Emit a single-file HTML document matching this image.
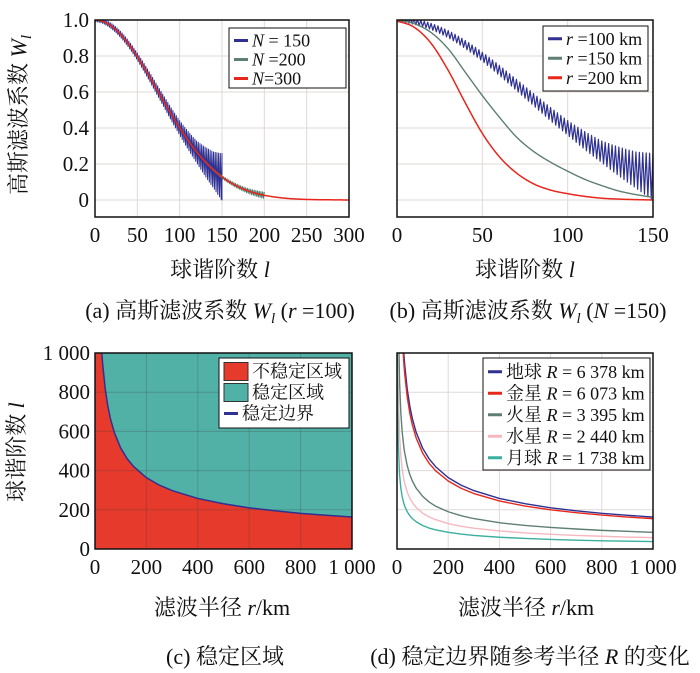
<!DOCTYPE html>
<html><head><meta charset="utf-8"><style>
html,body{margin:0;padding:0;background:#fff;}
svg{display:block;}
text{font-family:"Liberation Serif","Noto Serif CJK SC",serif;}
.tk{font-size:21px;fill:#111;}
.lab{font-size:22px;fill:#111;}
.lg{font-size:18px;fill:#111;}
.grid{stroke:#e2d8d8;stroke-width:1;}
</style></head><body>
<svg id="fig" width="700" height="673" viewBox="0 0 700 673" xmlns="http://www.w3.org/2000/svg">
<defs>
<clipPath id="ca"><rect x="95" y="20" width="254" height="197"/></clipPath>
<clipPath id="cb"><rect x="397" y="20" width="256" height="197"/></clipPath>
<clipPath id="cc"><rect x="95" y="353" width="257" height="196"/></clipPath>
<clipPath id="cd"><rect x="397" y="353" width="256" height="196"/></clipPath>
</defs>
<g id="pa"></g>
<g id="pb"></g>
<g id="pc"></g>
<g id="pd"></g>

<text class="lab" x="26" y="115" text-anchor="middle" transform="rotate(-90 26 115)">高斯滤波系数 <tspan font-style="italic">W</tspan><tspan font-style="italic" font-size="15" dy="5">l</tspan></text>
<text class="lab" x="220" y="277" text-anchor="middle">球谐阶数 <tspan font-style="italic">l</tspan></text>
<text class="lab" x="525" y="277" text-anchor="middle">球谐阶数 <tspan font-style="italic">l</tspan></text>
<text class="lab" x="220" y="318" text-anchor="middle">(a) 高斯滤波系数 <tspan font-style="italic">W</tspan><tspan font-style="italic" font-size="15" dy="5">l</tspan><tspan dy="-5"> (</tspan><tspan font-style="italic">r</tspan> =100)</text>
<text class="lab" x="528" y="318" text-anchor="middle">(b) 高斯滤波系数 <tspan font-style="italic">W</tspan><tspan font-style="italic" font-size="15" dy="5">l</tspan><tspan dy="-5"> (</tspan><tspan font-style="italic">N</tspan> =150)</text>
<text class="lab" x="24" y="452" text-anchor="middle" transform="rotate(-90 24 452)">球谐阶数 <tspan font-style="italic">l</tspan></text>
<text class="lab" x="222" y="615" text-anchor="middle">滤波半径 <tspan font-style="italic">r</tspan>/km</text>
<text class="lab" x="526" y="615" text-anchor="middle">滤波半径 <tspan font-style="italic">r</tspan>/km</text>
<text class="lab" x="225" y="664" text-anchor="middle">(c) 稳定区域</text>
<text class="lab" x="530" y="664" text-anchor="middle">(d) 稳定边界随参考半径 <tspan font-style="italic">R</tspan> 的变化</text>
</svg>
<script>
// ---- Panel a data ----
const aL = [0,10,20,30,40,50,60,70,80,90,100,110,120,130,140,150,160,170,180,190,200,220,240,260,280,300];
const aW300 = [1,.991,.964,.921,.864,.796,.720,.639,.558,.477,.401,.331,.268,.214,.167,.128,.097,.072,.052,.037,.026,.012,.005,.002,.001,0];
const aRippleL = [0,20,50,80,100,120,130,140,150];
const aRipple150 = [0.008,0.015,0.02,0.03,0.04,0.06,0.08,0.10,0.13];
const aRipple200L = [120,150,180,200];
const aRipple200 = [0.003,0.008,0.013,0.018];
const aXTicks = [0,50,100,150,200,250,300];
const aYTicks = [0,0.2,0.4,0.6,0.8,1.0];
const aYTickLabels = ["0","0.2","0.4","0.6","0.8","1.0"];
// ---- Panel b data ----
const bL = [0,10,20,30,40,50,60,70,80,90,100,110,120,130,140,150];
const bW100 = [1,.991,.964,.921,.864,.796,.720,.639,.558,.477,.401,.331,.268,.214,.167,.128];
const bW150 = [1,.98,.93,.84,.71,.58,.46,.35,.27,.21,.16,.115,.08,.05,.03,.015];
const bW200 = [.995,.96,.87,.72,.54,.37,.24,.15,.09,.055,.035,.02,.01,.005,.002,0];
const bRippleL = [0,10,50,100,120,130,140,150];
const bRipple100 = [0.008,0.015,0.025,0.04,0.06,0.08,0.10,0.13];
const bXTicks = [0,50,100,150];
// ---- Panels c, d data ----
const rKm = [1,2,3,5,10,15,20,27,30,40,50,60,75,100,125,150,200,250,300,400,500,600,700,800,900,1000];
const lEarth = [5150,3640,2980,2305,1630,1331,1153,992,941,815,729,665,595,515,461,421,364,326,298,258,231,210,195,182,172,163];
const lVenus = [4900,3470,2830,2192,1550,1266,1096,943,895,775,693,633,566,490,438,400,347,310,283,245,219,200,185,173,163,155];
const lMars = [2690,1900,1550,1202,850,694,601,517,491,425,380,347,310,269,240,219,190,170,155,134,120,110,102,95,90,85];
const lMercury = [1834,1297,1059,820,580,474,410,353,335,290,259,237,212,183,164,150,130,116,106,92,82,75,69,65,61,58];
const lMoon = [1202,850,694,537,380,310,269,231,219,190,170,155,139,120,107,98,85,76,69,60,54,49,45,42,40,38];
const cdXTicks = [0,200,400,600,800,1000];
const cdXTickLabels = ["0","200","400","600","800","1 000"];
const cdYTicks = [0,200,400,600,800,1000];
const cdYTickLabels = ["0","200","400","600","800","1 000"];

const NS="http://www.w3.org/2000/svg";
function mk(parent,tag,attrs){const e=document.createElementNS(NS,tag);for(const k in attrs)e.setAttribute(k,attrs[k]);parent.appendChild(e);return e;}
function lin(d0,d1,p0,p1){return v=>p0+(v-d0)/(d1-d0)*(p1-p0);}
function interp(xs,ys,x){if(x<=xs[0])return ys[0];for(let i=1;i<xs.length;i++){if(x<=xs[i]){const t=(x-xs[i-1])/(xs[i]-xs[i-1]);return ys[i-1]+t*(ys[i]-ys[i-1]);}}return ys[ys.length-1];}
// smooth (Catmull-Rom on uniform-ish grid)
function smooth(xs,ys,x){if(x<=xs[0])return ys[0];const n=xs.length;if(x>=xs[n-1])return ys[n-1];
  let i=1;while(x>xs[i])i++;const x0=xs[i-1],x1=xs[i],t=(x-x0)/(x1-x0);
  const y0=ys[i-1],y1=ys[i];const h=x1-x0;
  const m0=i-2>=0?(ys[i]-ys[i-2])/(xs[i]-xs[i-2])*h:(y1-y0);
  const m1=i+1<n?(ys[i+1]-ys[i-1])/(xs[i+1]-xs[i-1])*h:(y1-y0);
  const t2=t*t,t3=t2*t;return (2*t3-3*t2+1)*y0+(t3-2*t2+t)*m0+(-2*t3+3*t2)*y1+(t3-t2)*m1;}

function frame(g,x0,y0,x1,y1,sx,sy,xt,xtl,yt,ytl){
  for(const t of xt){const l=mk(g,'line',{x1:sx(t),x2:sx(t),y1:y0,y2:y1,class:'grid'});
    
    }
  for(const t of yt){const l=mk(g,'line',{x1:x0,x2:x1,y1:sy(t),y2:sy(t),class:'grid'});
    
    }
  xt.forEach((t,i)=>{const tx=mk(g,'text',{x:sx(t),y:y1+25,class:'tk','text-anchor':'middle'});tx.textContent=xtl[i];
    
    });
  if(ytl) yt.forEach((t,i)=>{const tx=mk(g,'text',{x:x0-6,y:sy(t)+7,class:'tk','text-anchor':'end'});tx.textContent=ytl[i];
    
    });
}
function border(g,x0,y0,x1,y1){const r=mk(g,'rect',{x:x0,y:y0,width:x1-x0,height:y1-y0,fill:'none',stroke:'#111','stroke-width':1.5});
  
  }
function path(g,pts,color,w,clip,name){const p=mk(g,'path',{d:'M'+pts.map(p=>p[0].toFixed(2)+','+p[1].toFixed(2)).join('L'),fill:'none',stroke:color,'stroke-width':w,'clip-path':'url(#'+clip+')','stroke-linejoin':'round'});
  
  return p;}
function legend(g,x,y,w,h,items,dy){const r=mk(g,'rect',{x:x,y:y,width:w,height:h,fill:'#fff',stroke:'#111','stroke-width':1});
  
  
  items.forEach((it,i)=>{const yy=y+dy/2+3+i*dy;
    if(it.patch){const s=mk(g,'rect',{x:x+5,y:yy-9,width:24,height:18,fill:it.color,stroke:'#333','stroke-width':1});
      
      }
    else{const s=mk(g,'line',{x1:x+5,x2:x+19,y1:yy,y2:yy,stroke:it.color,'stroke-width':3});
      
      }
    const t=mk(g,'text',{x:x+(it.patch?33:23),y:yy+6,class:'lg'});t.innerHTML=it.html;
    
    });}

// Panel a
(function(){const g=document.getElementById('pa');
 const sx=lin(0,300,95,349), sy=lin(0,1,200,20);
 frame(g,95,20,349,217,sx,sy,aXTicks,aXTicks.map(String),aYTicks,aYTickLabels);
 let p=[];for(let l=0;l<=150;l++){const b=smooth(aL,aW300,l),a=interp(aRippleL,aRipple150,l);p.push([sx(l),sy(b+(l%2?-a:a))]);}
 p.push([sx(150),sy(smooth(aL,aW300,150)-0.13)]);
 path(g,p,'#2e3192',1.0,'ca','series-n150');
 p=[];for(let l=0;l<=200;l++){const b=smooth(aL,aW300,l),a=interp(aRipple200L,aRipple200,l);p.push([sx(l),sy(b+(l%2?-a:a))]);}
 path(g,p,'#4f7a6a',1.0,'ca','series-n200');
 p=[];for(let l=0;l<=300;l+=1){p.push([sx(l),sy(smooth(aL,aW300,l))]);}
 path(g,p,'#e8261c',1.5,'ca','series-n300');
 border(g,95,20,349,217);
 legend(g,229,28,117,60,[{color:'#2e3192',html:'<tspan font-style="italic">N</tspan> = 150'},{color:'#5e7f72',html:'<tspan font-style="italic">N</tspan> =200'},{color:'#e8261c',html:'<tspan font-style="italic">N</tspan>=300'}],19);
})();
// Panel b
(function(){const g=document.getElementById('pb');
 const sx=lin(0,150,397,653), sy=lin(0,1,200,20);
 frame(g,397,20,653,217,sx,sy,bXTicks,bXTicks.map(String),aYTicks,null);
 let p=[];for(let l=0;l<=150;l++){const b=smooth(bL,bW100,l),a=interp(bRippleL,bRipple100,l);p.push([sx(l),sy(b+(l%2?-a:a))]);}
 path(g,p,'#2e3192',1.2,'cb','series-r100');
 p=[];for(let l=0;l<=150;l+=0.5){p.push([sx(l),sy(smooth(bL,bW150,l))]);}
 path(g,p,'#5e7f72',1.4,'cb','series-r150');
 p=[];for(let l=0;l<=150;l+=0.5){p.push([sx(l),sy(Math.max(0,smooth(bL,bW200,l)))]);}
 path(g,p,'#e8261c',1.5,'cb','series-r200');
 border(g,397,20,653,217);
 legend(g,543,26,105,65,[{color:'#2e3192',html:'<tspan font-style="italic">r</tspan> =100 km'},{color:'#5e7f72',html:'<tspan font-style="italic">r</tspan> =150 km'},{color:'#e8261c',html:'<tspan font-style="italic">r</tspan> =200 km'}],19.5);
})();
// Panel c
(function(){const g=document.getElementById('pc');
 const sx=lin(0,1000,95,352), sy=lin(0,1000,549,353);
 const bg=mk(g,'rect',{x:95,y:353,width:257,height:196,fill:'#52b1a6'});
 
 
 const pts=rKm.map((r,i)=>[sx(r),sy(lEarth[i])]);
 const f=mk(g,'path',{d:'M'+sx(0)+','+sy(0)+'L'+sx(0)+','+sy(6000)+'L'+pts.map(p=>p[0].toFixed(2)+','+p[1].toFixed(2)).join('L')+'L'+sx(1000)+','+sy(0)+'Z',fill:'#e53a2c','clip-path':'url(#cc)'});
 
 
 for(const t of cdXTicks){const l=mk(g,'line',{x1:sx(t),x2:sx(t),y1:353,y2:549,stroke:'rgba(60,60,60,0.25)'});
   
   }
 for(const t of cdYTicks){const l=mk(g,'line',{x1:95,x2:352,y1:sy(t),y2:sy(t),stroke:'rgba(60,60,60,0.25)'});
   
   }
 cdXTicks.forEach((t,i)=>{const tx=mk(g,'text',{x:sx(t),y:574,class:'tk','text-anchor':'middle'});tx.textContent=cdXTickLabels[i];
   
   });
 cdYTicks.forEach((t,i)=>{const tx=mk(g,'text',{x:90,y:sy(t)+7,class:'tk','text-anchor':'end'});tx.textContent=cdYTickLabels[i];
   
   });
 path(g,pts,'#2e3192',1.5,'cc','stability-boundary');
 border(g,95,353,352,549);
 legend(g,219,358,130,70,[{color:'#e53a2c',patch:true,html:'不稳定区域'},{color:'#52b1a6',patch:true,html:'稳定区域'},{color:'#2e3192',html:'稳定边界'}],21);
})();
// Panel d
(function(){const g=document.getElementById('pd');
 const sx=lin(0,1000,397,653), sy=lin(0,1000,549,353);
 frame(g,397,353,653,549,sx,sy,cdXTicks,cdXTickLabels,cdYTicks,null);
 const ser=[[lEarth,'#2e3192','earth'],[lVenus,'#e8261c','venus'],[lMars,'#5e7f72','mars'],[lMercury,'#f6b8c0','mercury'],[lMoon,'#3aaf9f','moon']];
 for(const s of ser){path(g,rKm.map((r,i)=>[sx(r),sy(s[0][i])]),s[1],1.4,'cd','boundary-'+s[2]);}
 border(g,397,353,653,549);
 legend(g,483,358,167,112,[
  {color:'#2e3192',html:'地球 <tspan font-style="italic">R</tspan> = 6 378 km'},
  {color:'#e8261c',html:'金星 <tspan font-style="italic">R</tspan> = 6 073 km'},
  {color:'#5e7f72',html:'火星 <tspan font-style="italic">R</tspan> = 3 395 km'},
  {color:'#f6b8c0',html:'水星 <tspan font-style="italic">R</tspan> = 2 440 km'},
  {color:'#3aaf9f',html:'月球 <tspan font-style="italic">R</tspan> = 1 738 km'}],21.5);
})();
</script>
</body></html>
